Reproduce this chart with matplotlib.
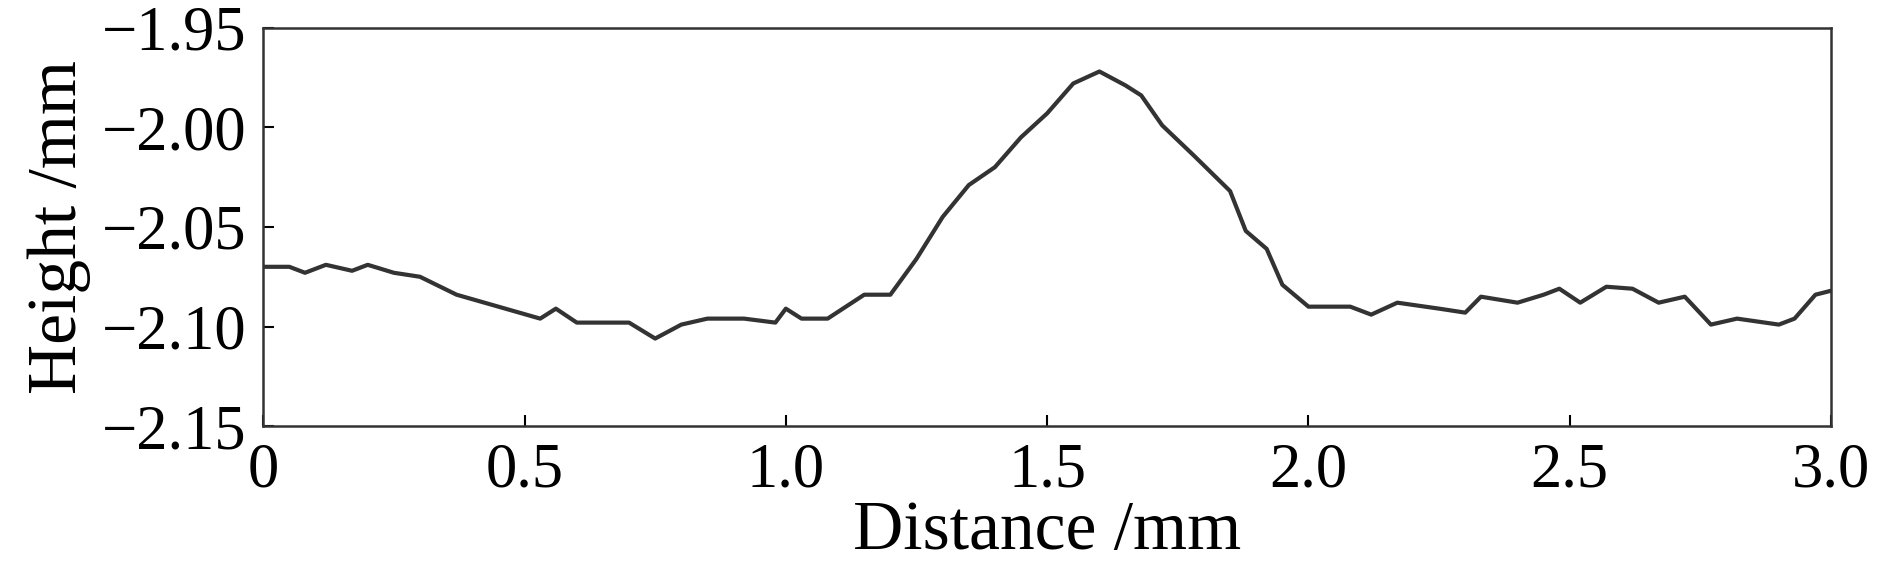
import matplotlib.pyplot as plt

distance = [0.0, 0.05, 0.08, 0.12, 0.17, 0.2, 0.25, 0.3, 0.37, 0.45, 0.53, 0.56, 0.6, 0.7,
            0.75, 0.8, 0.85, 0.92, 0.98, 1.0, 1.03, 1.08, 1.15, 1.2, 1.25, 1.3, 1.35, 1.4,
            1.45, 1.5, 1.55, 1.6, 1.65, 1.68, 1.72, 1.78, 1.85, 1.88, 1.92, 1.95, 2.0,
            2.05, 2.08, 2.12, 2.17, 2.25, 2.3, 2.33, 2.4, 2.45, 2.48, 2.52, 2.57, 2.62,
            2.67, 2.72, 2.77, 2.82, 2.9, 2.93, 2.97, 3.0]
height = [-2.070, -2.070, -2.073, -2.069, -2.072, -2.069, -2.073, -2.075, -2.084, -2.090,
          -2.096, -2.091, -2.098, -2.098, -2.106, -2.099, -2.096, -2.096, -2.098, -2.091,
          -2.096, -2.096, -2.084, -2.084, -2.066, -2.045, -2.029, -2.020, -2.005, -1.993,
          -1.978, -1.972, -1.979, -1.984, -1.999, -2.014, -2.032, -2.052, -2.061, -2.079,
          -2.090, -2.090, -2.090, -2.094, -2.088, -2.091, -2.093, -2.085, -2.088, -2.084,
          -2.081, -2.088, -2.080, -2.081, -2.088, -2.085, -2.099, -2.096, -2.099, -2.096,
          -2.084, -2.082]
xticks = [0, 0.5, 1.0, 1.5, 2.0, 2.5, 3.0]
xtick_labels = ['0', '0.5', '1.0', '1.5', '2.0', '2.5', '3.0']
yticks = [-2.15, -2.10, -2.05, -2.00, -1.95]
ytick_labels = ['\u22122.15', '\u22122.10', '\u22122.05', '\u22122.00', '\u22121.95']

plt.rcParams['font.family'] = ['Liberation Serif', 'DejaVu Serif']
plt.rcParams['font.size'] = 45

fig = plt.figure(figsize=(18.8, 5.76), dpi=100)
ax = fig.add_axes([0.14, 0.26, 0.834, 0.692])
ax.plot(distance, height, color='#333333', linewidth=3)
ax.set_xlim(0, 3.0)
ax.set_ylim(-2.15, -1.95)
ax.set_xticks(xticks, xtick_labels)
ax.set_yticks(yticks, ytick_labels)
ax.tick_params(direction='in', length=8, width=1.5, pad=12)
for s in ax.spines.values():
    s.set_linewidth(1.8)
    s.set_color('#333333')
ax.set_xlabel('Distance /mm', fontsize=50, labelpad=0)
ax.set_ylabel('Height /mm', fontsize=50, labelpad=8)
fig.savefig('out.png')
